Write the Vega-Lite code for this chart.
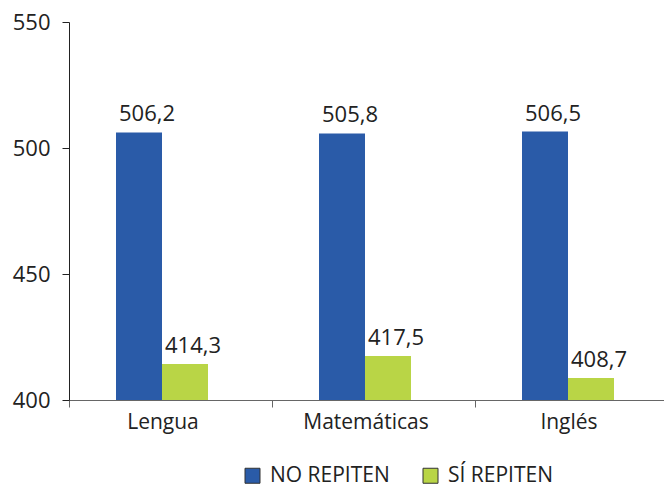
{
  "$schema": "https://vega.github.io/schema/vega-lite/v6.json",
  "width": 595,
  "height": 378,
  "autosize": {"type": "none"},
  "padding": {"left": 69, "top": 22, "right": 0, "bottom": 84},
  "config": {
    "view": {"stroke": null},
    "font": "Open Sans",
    "locale": {"number": {"decimal": ",", "thousands": ".", "grouping": [3], "currency": ["", " €"]}}
  },
  "data": {
    "values": [
      {"materia": "Lengua", "grupo": "NO REPITEN", "puntaje": 506.2},
      {"materia": "Lengua", "grupo": "SÍ REPITEN", "puntaje": 414.3},
      {"materia": "Matemáticas", "grupo": "NO REPITEN", "puntaje": 505.8},
      {"materia": "Matemáticas", "grupo": "SÍ REPITEN", "puntaje": 417.5},
      {"materia": "Inglés", "grupo": "NO REPITEN", "puntaje": 506.5},
      {"materia": "Inglés", "grupo": "SÍ REPITEN", "puntaje": 408.7}
    ]
  },
  "encoding": {
    "x": {
      "field": "materia",
      "type": "nominal",
      "sort": ["Lengua", "Matemáticas", "Inglés"],
      "scale": {"range": [0, 609], "paddingInner": 0, "paddingOuter": 0},
      "axis": {
        "title": null,
        "labelAngle": 0,
        "labelFontSize": 21,
        "labelColor": "#222222",
        "labelPadding": 4,
        "labelOffset": -8,
        "tickBand": "extent",
        "tickSize": 7,
        "tickColor": "#666666",
        "domainColor": "#666666",
        "grid": false
      }
    },
    "xOffset": {
      "field": "grupo",
      "sort": ["NO REPITEN", "SÍ REPITEN"],
      "scale": {"range": [47, 139], "paddingInner": 0, "paddingOuter": 0}
    },
    "y": {
      "field": "puntaje",
      "type": "quantitative",
      "scale": {"domain": [400, 550], "zero": false},
      "axis": {
        "title": null,
        "values": [400, 450, 500, 550],
        "grid": false,
        "labelFontSize": 22,
        "labelColor": "#222222",
        "labelPadding": 12,
        "tickSize": 7,
        "tickColor": "#222222",
        "domainColor": "#222222"
      }
    }
  },
  "layer": [
    {
      "mark": {"type": "bar"},
      "encoding": {
        "y2": {"datum": 400},
        "color": {
          "field": "grupo",
          "type": "nominal",
          "sort": ["NO REPITEN", "SÍ REPITEN"],
          "scale": {"domain": ["NO REPITEN", "SÍ REPITEN"], "range": ["#2a5ba8", "#b9d546"]},
          "legend": {
            "title": null,
            "orient": "none",
            "direction": "horizontal",
            "legendX": 173,
            "legendY": 443,
            "padding": 0,
            "symbolType": "square",
            "symbolSize": 225,
            "symbolStrokeColor": "#333333",
            "symbolStrokeWidth": 1,
            "symbolOpacity": 1,
            "labelFontSize": 21,
            "labelColor": "#222222",
            "labelOffset": 7,
            "columnPadding": 30
          }
        }
      }
    },
    {
      "mark": {"type": "text", "baseline": "bottom", "dy": -6, "dx": 8, "fontSize": 22, "color": "#222222"},
      "encoding": {
        "text": {"field": "puntaje", "type": "quantitative", "format": ".1f"}
      }
    }
  ]
}
